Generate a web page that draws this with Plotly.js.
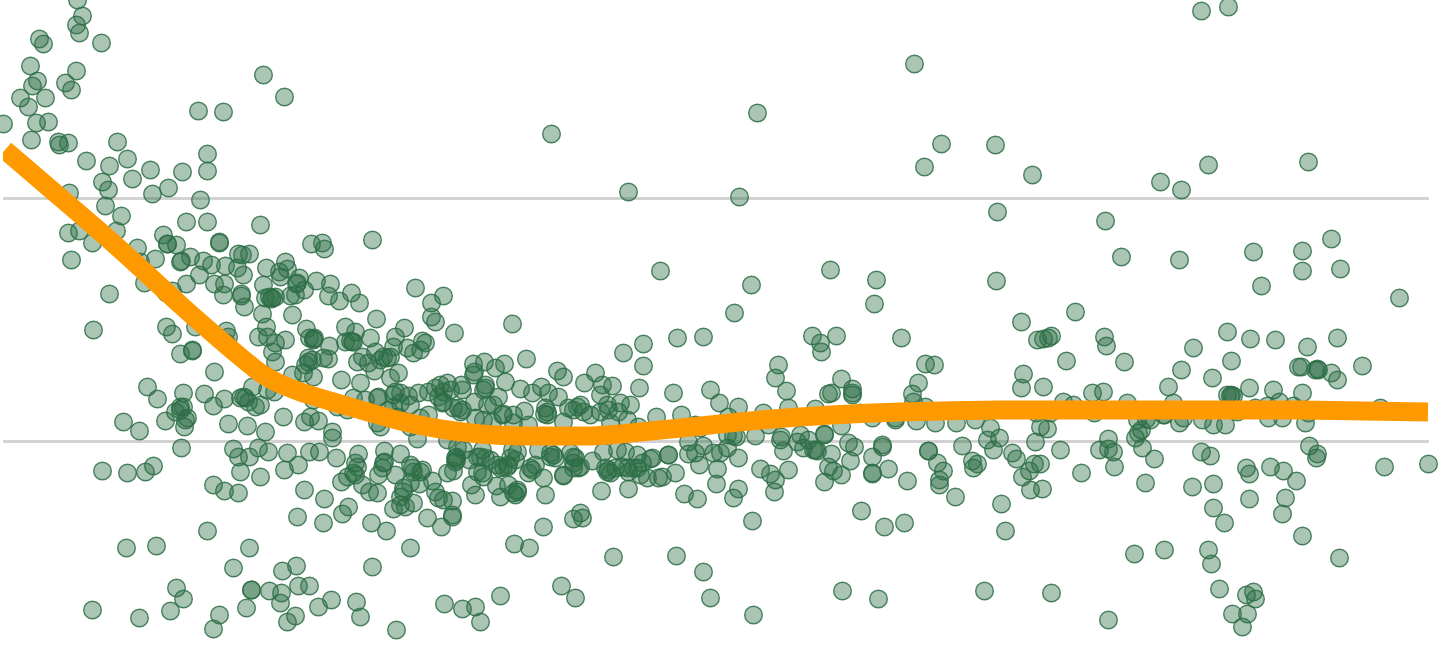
<!DOCTYPE html>
<html>
<head>
<meta charset="utf-8">
<script src="https://cdn.plot.ly/plotly-3.0.1.min.js"></script>
<style>html,body{margin:0;padding:0;background:#fff;overflow:hidden}#chart{width:1442px;height:646px}</style>
</head>
<body>
<div id="chart"></div>
<script>
const pointsFarLeft = [[77,0],[82,16],[76,25],[79,33],[101,43],[39,39],[43,44],[30,66],[76,71],[37,81],[32,86],[65,83],[71,90],[20,98],[45,98],[28,107],[36,123],[48,122],[3,124],[31,140],[58,142],[59,145],[68,143],[117,142],[198,111],[223,112],[86,161],[127,159],[109,166],[150,170],[207,154],[207,171],[182,172],[132,179],[102,182],[108,190],[168,188],[152,194],[69,193],[200,200],[105,206],[121,216],[186,222],[207,222],[116,231],[68,233],[79,231],[92,243],[163,235],[167,244],[167,244],[176,245],[219,242],[219,243],[137,248],[140,262],[155,259],[71,260],[181,261],[190,257],[203,261],[211,265],[225,266],[199,275],[214,284],[224,284],[186,284],[144,283],[172,291],[166,293],[109,294],[223,295],[93,330],[166,327],[172,334],[263,75],[284,97]];
const pointsUpperLeft = [[260,225],[311,244],[322,243],[324,249],[372,240],[180,262],[237,268],[243,275],[238,254],[242,255],[249,254],[241,294],[241,296],[244,307],[266,268],[285,262],[287,269],[279,272],[280,277],[299,278],[297,283],[296,284],[316,281],[330,284],[263,285],[265,298],[272,298],[271,299],[269,297],[275,297],[290,296],[295,295],[304,290],[328,296],[339,301],[351,293],[359,303],[262,314],[292,315],[376,319],[195,327],[226,331],[228,337],[226,343],[192,350],[192,351],[180,354],[266,327],[258,337],[267,337],[275,343],[285,340],[272,352],[275,362],[306,329],[309,338],[314,338],[313,340],[313,339],[345,327],[355,332],[404,328],[345,342],[350,341],[353,342],[352,342],[370,338],[329,346],[395,337],[393,347],[407,348],[413,353],[420,350],[375,352],[362,357],[357,362],[368,363],[380,360],[387,358],[390,357],[383,357],[374,371],[390,378],[398,373],[308,358],[305,365],[308,362],[312,360],[323,358],[328,359],[303,373],[313,377],[292,375],[341,380],[360,383],[214,372],[252,387],[267,390],[274,392],[243,397],[245,398],[248,402],[255,407],[260,405],[240,398],[204,394],[224,399],[213,406],[183,393],[183,407],[180,410],[187,418],[283,417],[304,422],[310,417],[318,421],[313,400],[337,407],[347,410],[353,398],[365,400],[377,398],[378,397],[393,395],[395,392],[408,396],[410,405],[418,393],[393,407],[388,410],[377,423],[380,427],[397,417],[410,427],[415,288],[431,303],[443,296],[431,317],[435,322],[147,387],[157,399],[123,422],[175,412],[180,407],[165,421]];
const pointsLowerLeft = [[139,431],[184,427],[185,420],[181,448],[228,424],[247,426],[265,432],[332,432],[332,438],[102,471],[127,473],[145,472],[153,466],[233,449],[238,457],[249,457],[258,448],[268,452],[287,453],[309,452],[319,452],[336,458],[358,454],[384,451],[384,462],[400,454],[240,472],[260,477],[284,470],[298,465],[213,485],[224,491],[238,493],[304,490],[324,499],[348,507],[342,514],[297,517],[323,523],[371,523],[386,531],[410,548],[372,567],[207,531],[126,548],[156,546],[249,548],[233,568],[282,571],[296,566],[176,588],[183,599],[92,610],[139,618],[170,611],[219,615],[213,629],[246,608],[251,590],[251,590],[269,591],[281,593],[280,603],[298,586],[309,586],[295,616],[287,622],[318,607],[331,600],[356,602],[360,617],[396,630],[355,463],[357,467],[353,473],[347,477],[355,475],[341,482],[362,485],[369,492],[377,493],[378,475],[382,468],[383,463],[395,475],[403,488],[393,509],[400,505],[405,507],[413,503],[410,465],[413,472]];
const pointsDenseMiddle = [[425,343],[422,341],[454,333],[526,359],[623,353],[473,364],[484,362],[474,372],[473,375],[495,368],[504,364],[557,371],[563,377],[595,373],[584,383],[602,385],[612,386],[600,395],[505,382],[485,385],[485,388],[483,390],[461,385],[462,390],[520,389],[532,393],[541,387],[548,393],[558,397],[447,383],[440,385],[435,388],[428,392],[443,392],[450,390],[400,393],[400,403],[438,397],[442,403],[443,402],[474,402],[498,397],[487,405],[493,405],[458,408],[460,412],[462,410],[453,408],[503,414],[513,415],[524,411],[502,415],[545,408],[547,412],[544,414],[547,415],[568,408],[577,407],[580,405],[573,410],[583,412],[590,415],[600,412],[607,405],[608,410],[620,403],[618,412],[630,405],[428,415],[420,418],[475,418],[483,420],[492,422],[513,423],[528,425],[563,422],[610,423],[627,420],[417,439],[447,440],[457,447],[463,450],[482,450],[512,450],[517,452],[538,450],[550,453],[570,453],[573,457],[603,452],[617,450],[625,452],[637,455],[455,458],[456,460],[455,462],[456,457],[469,460],[477,457],[480,457],[485,458],[490,460],[510,458],[508,465],[507,467],[515,460],[550,457],[553,455],[555,458],[575,458],[573,463],[580,467],[592,461],[453,471],[447,473],[412,468],[422,470],[420,472],[432,481],[419,484],[410,483],[403,492],[400,497],[482,473],[477,472],[483,477],[497,465],[500,468],[503,467],[530,468],[532,470],[528,473],[535,465],[543,478],[563,475],[563,476],[573,468],[578,468],[605,468],[607,472],[610,473],[608,470],[615,468],[622,467],[627,468],[628,472],[637,468],[471,485],[475,495],[435,492],[443,500],[452,501],[438,498],[496,486],[500,497],[508,485],[517,490],[515,495],[513,493],[517,492],[545,495],[601,491],[628,489],[427,518],[441,527],[452,517],[452,515],[543,527],[580,513],[573,519],[582,518],[514,544],[529,548],[444,604],[462,609],[475,607],[480,622],[500,596],[561,586],[575,598],[512,324],[551,134],[628,192]];
const pointsCenter = [[643,344],[643,366],[639,388],[673,393],[710,390],[719,403],[738,407],[778,365],[775,378],[786,391],[788,408],[763,413],[841,379],[852,389],[852,393],[852,395],[828,394],[831,393],[815,409],[860,413],[681,415],[656,417],[638,427],[728,417],[768,425],[841,426],[872,418],[895,420],[695,425],[700,428],[727,435],[736,437],[733,436],[755,436],[781,437],[780,440],[800,435],[824,434],[824,435],[688,442],[703,446],[727,448],[720,453],[713,453],[695,453],[688,454],[783,451],[797,442],[803,448],[808,440],[815,450],[817,451],[813,450],[831,454],[848,443],[854,447],[882,445],[882,447],[872,457],[850,461],[828,467],[833,471],[841,475],[824,482],[888,469],[872,473],[872,474],[738,458],[699,465],[717,469],[716,484],[675,473],[668,455],[668,455],[650,459],[652,458],[642,463],[633,468],[640,475],[647,478],[658,478],[662,477],[760,469],[770,474],[775,480],[788,470],[774,492],[684,494],[697,499],[738,489],[733,498],[752,521],[861,511],[884,527],[812,336],[820,343],[821,352],[836,336],[703,337],[677,338],[660,271],[751,285],[734,313],[739,197],[757,113],[830,270],[876,280],[874,304],[901,338],[613,557],[676,556],[703,572],[710,598],[753,615],[842,591],[878,599]];
const pointsRightMiddle = [[925,364],[934,365],[918,383],[912,394],[913,402],[925,407],[895,418],[916,421],[935,423],[956,423],[975,420],[990,428],[987,440],[999,438],[993,450],[962,446],[928,451],[928,451],[937,463],[943,471],[939,480],[939,485],[972,461],[973,468],[977,464],[1012,453],[1016,459],[1034,464],[1040,464],[1029,471],[1022,477],[1030,490],[1042,489],[955,497],[907,481],[1001,504],[1005,531],[904,523],[1023,374],[1021,388],[1043,387],[1066,361],[1124,362],[1092,393],[1103,392],[1063,402],[1073,405],[1127,403],[1094,413],[1137,420],[1146,419],[1163,415],[1040,427],[1047,429],[1035,442],[1060,450],[1108,439],[1099,450],[1108,449],[1113,452],[1114,467],[1081,473],[1141,430],[1138,433],[1135,438],[1142,448],[1154,459],[1145,483],[1050,413],[1036,413],[914,64],[941,144],[924,167],[995,145],[997,212],[996,281],[1032,175],[1021,322],[1051,336],[1048,338],[1037,340],[1043,339],[1075,312],[1104,337],[1106,346],[1105,221],[1121,257],[984,591],[1051,593],[1108,620],[1134,554]];
const pointsFarRight = [[1227,332],[1250,339],[1275,340],[1337,338],[1307,347],[1193,348],[1181,370],[1231,361],[1362,366],[1298,367],[1301,367],[1315,370],[1317,369],[1318,370],[1331,373],[1337,380],[1212,378],[1168,387],[1249,388],[1227,395],[1231,395],[1233,396],[1230,396],[1273,390],[1302,393],[1173,403],[1279,402],[1267,406],[1293,406],[1255,408],[1380,408],[1237,412],[1308,413],[1164,415],[1179,423],[1183,418],[1202,420],[1213,425],[1225,425],[1150,420],[1268,418],[1282,418],[1305,423],[1309,446],[1317,454],[1316,458],[1201,452],[1210,456],[1246,468],[1249,474],[1270,467],[1283,471],[1296,481],[1384,467],[1428,464],[1192,487],[1213,484],[1249,499],[1285,498],[1282,514],[1213,508],[1224,523],[1302,536],[1164,550],[1208,550],[1339,558],[1201,11],[1228,7],[1208,165],[1308,162],[1160,182],[1181,190],[1253,252],[1331,239],[1302,251],[1179,260],[1302,271],[1340,269],[1261,286],[1399,298],[1211,564],[1219,589],[1246,595],[1253,592],[1255,599],[1232,614],[1247,614],[1242,627]];

const trendX = [4.5,50,100,140,180,213,240,260,280,300,350,400,440,480,520,560,590,620,660,700,760,830,900,1000,1150,1300,1427.5];
const trendY = [150,189,232,268,305,334,357,373,384,392,407,421,429,434,436,436,436,434,430,426,420,415,412,410,410,410,412];

const gridValues = [198, 441];

const points = [].concat(pointsFarLeft, pointsUpperLeft, pointsLowerLeft, pointsDenseMiddle, pointsCenter, pointsRightMiddle, pointsFarRight);

const scatter = {
  type: 'scatter', mode: 'markers', cliponaxis: false, hoverinfo: 'skip',
  x: points.map(p => p[0]), y: points.map(p => p[1]),
  marker: { size: 17.6, color: 'rgba(45,110,70,0.4)', line: { color: 'rgba(45,110,70,0.85)', width: 1.4 } }
};
const trend = {
  type: 'scatter', mode: 'lines', cliponaxis: false, hoverinfo: 'skip',
  x: trendX, y: trendY,
  line: { color: '#ff9900', width: 19, shape: 'spline', smoothing: 0.6 }
};
const layout = {
  width: 1442, height: 646, showlegend: false,
  margin: { l: 3, r: 13, t: 0, b: 0, pad: 0 },
  paper_bgcolor: '#fff', plot_bgcolor: '#fff',
  xaxis: { range: [2.5, 1428.5], showgrid: false, zeroline: false, showline: false, showticklabels: false, ticks: '' },
  yaxis: { range: [646, 0], tickmode: 'array', tickvals: gridValues, showgrid: true, gridcolor: '#d2d2d2', gridwidth: 3, zeroline: false, showline: false, showticklabels: false, ticks: '' }
};
Plotly.newPlot('chart', [scatter, trend], layout, { displayModeBar: false, staticPlot: true });
</script>
</body>
</html>
